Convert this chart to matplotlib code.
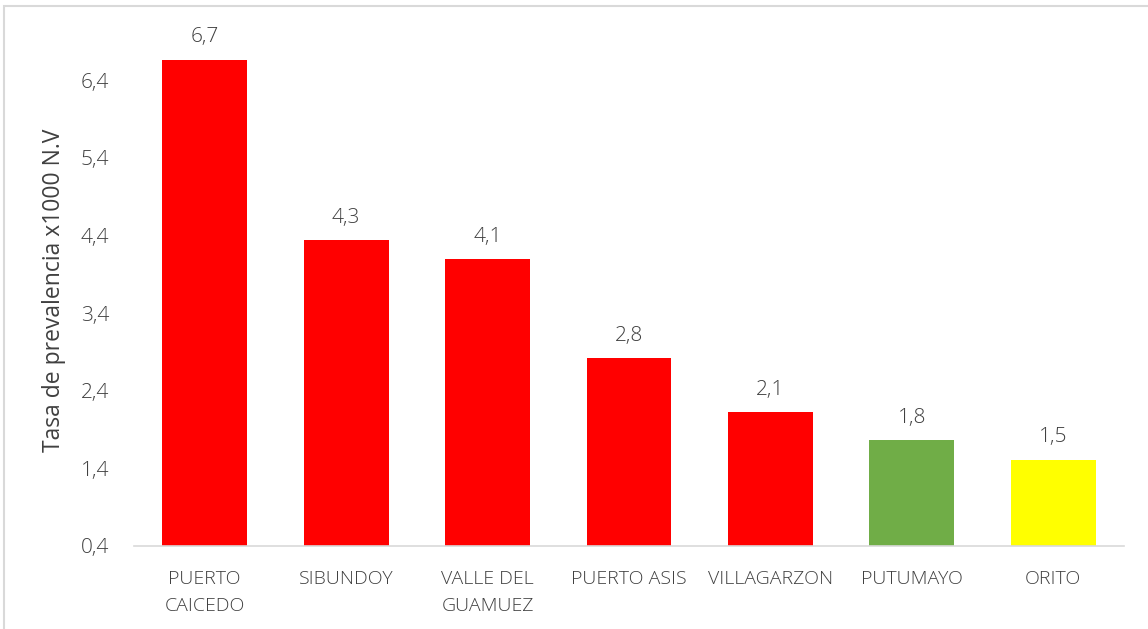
import matplotlib.pyplot as plt
from matplotlib.patches import Rectangle

# Data
municipios = ['PUERTO\nCAICEDO', 'SIBUNDOY', 'VALLE DEL\nGUAMUEZ', 'PUERTO ASIS',
              'VILLAGARZON', 'PUTUMAYO', 'ORITO']
tasas = [6.66, 4.34, 4.09, 2.82, 2.12, 1.76, 1.51]
etiquetas = ['6,7', '4,3', '4,1', '2,8', '2,1', '1,8', '1,5']
colores = ['#ff0000'] * 5 + ['#70ad47', '#ffff00']
yticks = [0.4, 1.4, 2.4, 3.4, 4.4, 5.4, 6.4]
base = 0.4

plt.rcParams['font.family'] = ['Open Sans', 'DejaVu Sans']
plt.rcParams['font.weight'] = 'light'
text_color = '#404040'

W, H = 1148, 629
fig = plt.figure(figsize=(W / 100, H / 100), dpi=100)
ax = fig.add_axes([134 / W, (H - 546) / H, (1124 - 134) / W, 528 / H])

x = list(range(len(municipios)))
bars = ax.bar(x, [v - base for v in tasas], width=0.6, color=colores, bottom=base)

for b, lab in zip(bars, etiquetas):
    ax.annotate(lab, (b.get_x() + b.get_width() / 2, b.get_y() + b.get_height()),
                xytext=(0, 9), textcoords='offset points',
                ha='center', va='bottom', fontsize=15, color=text_color)

ax.set_xlim(-0.5, len(municipios) - 0.5)
ax.set_ylim(base, 7.2)
ax.set_xticks(x)
ax.set_xticklabels(municipios, fontsize=14, color=text_color, linespacing=1.65)
ax.set_yticks(yticks)
ax.set_yticklabels([f'{t:.1f}'.replace('.', ',') for t in yticks], fontsize=15, color=text_color)
ax.tick_params(axis='x', length=0, pad=17)
ax.tick_params(axis='y', length=0, pad=18)
ax.set_ylabel('Tasa de prevalencia x1000 N.V', fontsize=16.5, color=text_color)
ax.yaxis.set_label_coords(-0.069, 0.485)

for side in ['top', 'right', 'left']:
    ax.spines[side].set_visible(False)
ax.spines['bottom'].set_color('#d9d9d9')
ax.spines['bottom'].set_linewidth(1.2)

# light border of the chart area
fig.patches.append(Rectangle((4 / W, -0.01), 1.02, (H - 6) / H + 0.01, transform=fig.transFigure,
                             fill=False, edgecolor='#d9d9d9', linewidth=1.5))

fig.savefig('out.png', dpi=100)
